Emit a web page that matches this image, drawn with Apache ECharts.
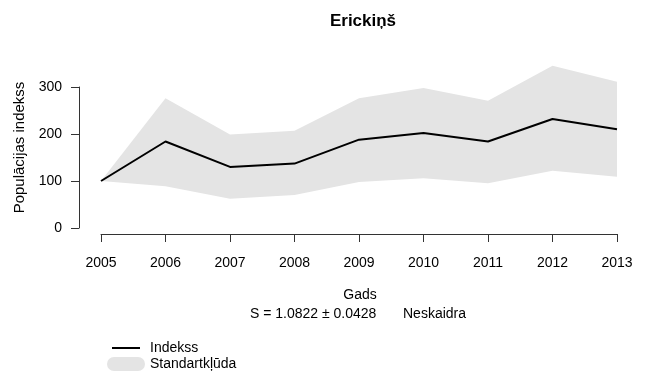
<!DOCTYPE html>
<html>
<head>
<meta charset="utf-8">
<script src="https://cdn.jsdelivr.net/npm/echarts@6/dist/echarts.min.js"></script>
<style>
html,body{margin:0;padding:0;background:#fff;}
#chart{width:654px;height:378px;}
</style>
</head>
<body>
<div id="chart"></div>
<script>
// Data
const years = [2005, 2006, 2007, 2008, 2009, 2010, 2011, 2012, 2013];
const indexValues = [100, 184, 130, 137, 188, 202, 184, 232, 210];
const upperValues = [100, 276, 199, 207, 276, 298, 271, 345, 311];
const lowerValues = [100, 89, 62, 70, 98, 106, 95, 122, 109];
const yTicks = [0, 100, 200, 300];

const titleText = 'Erickiņš';
const xTitle = 'Gads';
const yTitle = 'Populācijas indekss';
const statText = 'S = 1.0822 ± 0.0428';
const statClass = 'Neskaidra';
const lineName = 'Indekss';
const bandName = 'Standartkļūda';

const FONT = "'Liberation Sans', Arial, sans-serif";
const bandColor = '#e4e4e4';

const chart = echarts.init(document.getElementById('chart'), null, {renderer: 'canvas'});

function renderBand(params, api) {
  if (params.dataIndex !== 0) return null;
  const pts = [];
  for (let i = 0; i < years.length; i++) pts.push(api.coord([years[i], upperValues[i]]));
  for (let i = years.length - 1; i >= 0; i--) pts.push(api.coord([years[i], lowerValues[i]]));
  return {type: 'polygon', shape: {points: pts}, style: {fill: bandColor}, silent: true};
}

const option = {
  animation: false,
  backgroundColor: '#fff',
  textStyle: {fontFamily: FONT},
  title: [
    {text: titleText, left: 358, top: 8, textAlign: 'center',
     textStyle: {fontFamily: FONT, fontSize: 17, fontWeight: 'bold', color: '#000'}},
    {text: xTitle, left: 355, top: 283, textAlign: 'center',
     textStyle: {fontFamily: FONT, fontSize: 14, fontWeight: 'normal', color: '#000'}},
    {text: statText, left: 245, top: 302,
     textStyle: {fontFamily: FONT, fontSize: 14, fontWeight: 'normal', color: '#000'}},
    {text: statClass, left: 398, top: 302,
     textStyle: {fontFamily: FONT, fontSize: 14, fontWeight: 'normal', color: '#000'}}
  ],
  graphic: [
    {type: 'text', x: 20, y: 147.5, rotation: Math.PI / 2,
     style: {text: yTitle, font: "15px 'Liberation Sans', Arial, sans-serif", fill: '#000',
             align: 'center', verticalAlign: 'middle'}}
  ],
  legend: [
    {data: [{name: lineName, icon: 'rect', itemStyle: {color: '#000'}}],
     orient: 'vertical', left: 112, top: 341,
     itemWidth: 28, itemHeight: 2, padding: 0,
     textStyle: {fontFamily: FONT, fontSize: 14, color: '#000', padding: [0, 0, 0, 5]}},
    {data: [{name: bandName,
             icon: 'path://M7,0 L31,0 A7,7 0 0 1 31,14 L7,14 A7,7 0 0 1 7,0 Z',
             itemStyle: {color: bandColor}}],
     orient: 'vertical', left: 107, top: 357, padding: 0,
     itemWidth: 38, itemHeight: 14, symbolKeepAspect: false,
     textStyle: {fontFamily: FONT, fontSize: 14, color: '#000'}}
  ],
  grid: {left: 101, right: 37, top: 87, bottom: 150, containLabel: false},
  xAxis: {
    type: 'value', min: 2005, max: 2013, interval: 1, offset: 6,
    splitLine: {show: false},
    axisLine: {show: true, onZero: false, lineStyle: {color: '#333', width: 1}},
    axisTick: {show: true, length: 8, inside: false, lineStyle: {color: '#333'}},
    axisLabel: {margin: 22, fontFamily: FONT, fontSize: 14, color: '#000',
                formatter: v => String(v)}
  },
  yAxis: {
    type: 'value', min: 0, max: 300, interval: 100, offset: 22,
    splitLine: {show: false},
    axisLine: {show: true, onZero: false, lineStyle: {color: '#333', width: 1}},
    axisTick: {show: true, length: 8, lineStyle: {color: '#333'}},
    axisLabel: {margin: 17, fontFamily: FONT, fontSize: 14, color: '#000'}
  },
  series: [
    {name: bandName, type: 'custom', renderItem: renderBand, clip: false,
     itemStyle: {color: bandColor},
     data: years.map((y, i) => [y, lowerValues[i], upperValues[i]]),
     encode: {x: 0, y: [1, 2]}, silent: true, z: 1},
    {name: lineName, type: 'line', symbol: 'none', clip: false,
     data: years.map((y, i) => [y, indexValues[i]]),
     lineStyle: {color: '#000', width: 2}, itemStyle: {color: '#000'}, z: 3}
  ]
};
chart.setOption(option);
</script>
</body>
</html>
